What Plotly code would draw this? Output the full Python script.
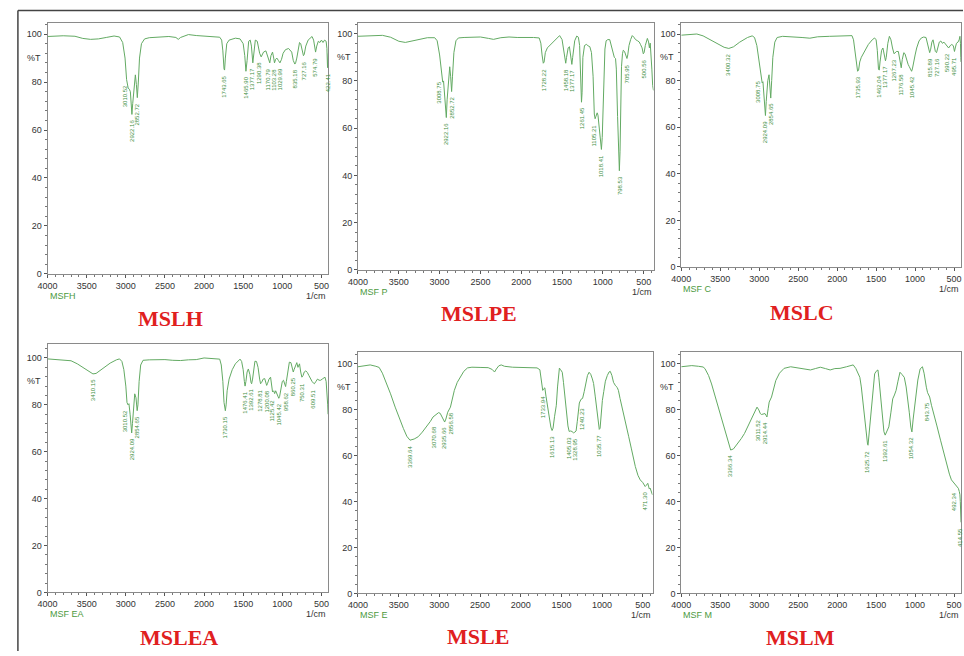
import numpy as np
import plotly.graph_objects as go

W, H = 964, 656

# ---------------- data (wavenumber 1/cm, %T) ----------------
titles = ["MSLH", "MSLPE", "MSLC", "MSLEA", "MSLE", "MSLM"]
sample_codes = ["MSFH", "MSF P", "MSF C", "MSF EA", "MSF E", "MSF M"]
x_ticks = [4000, 3500, 3000, 2500, 2000, 1500, 1000, 500]
y_ticks = [0, 20, 40, 60, 80, 100]

h_wn = [4000, 3900, 3800, 3650, 3550, 3450, 3350, 3250, 3150, 3080, 3040, 3010, 2990, 2970, 2955, 2942, 2932, 2922, 2912,
        2895, 2878, 2865, 2853, 2840, 2825, 2800, 2760, 2700, 2600, 2450, 2360, 2330, 2300, 2200, 2100, 2000, 1900, 1800,
        1775, 1760, 1745, 1738, 1728, 1710, 1680, 1600, 1540, 1500, 1480, 1465, 1450, 1430, 1410, 1395, 1377, 1365, 1345,
        1320, 1290, 1270, 1240, 1210, 1190, 1170, 1160, 1145, 1125, 1110, 1100, 1085, 1070, 1050, 1030, 1010, 990, 960,
        920, 880, 860, 840, 830, 815, 800, 780, 765, 745, 730, 720, 700, 670, 640, 620, 600, 585, 575, 560, 540, 520, 500,
        480, 460, 440, 430, 422, 416, 412]
h_t = [99, 99.2, 99.3, 99.1, 98.2, 97.8, 98, 98.6, 99.2, 98.8, 96.5, 90, 81, 77.5, 77, 76, 70, 66.5, 71,
       79, 83, 79, 73.5, 80, 90, 96, 98, 98.5, 98.8, 99, 98.6, 97.8, 98.6, 99.8, 99.4, 99.2, 98.9, 98.7,
       97.5, 93, 85.5, 85, 90, 96, 97.5, 98.3, 98, 96, 91, 84.5, 89, 97, 97.5, 95, 88, 93, 97.5,
       97, 92, 90.5, 92.5, 93, 91, 88.5, 88, 91, 92.5, 90, 88, 89.5, 90, 89, 88, 89.5, 92, 93.5,
       94, 92.5, 89, 87.5, 88, 90, 93.5, 96.5, 96, 93, 91, 91.5, 95, 97.5, 98.5, 99, 97.5, 94, 92.5, 95, 97, 96.5, 97.5,
       96.5, 97.5, 97, 94, 86, 89, 92]
h_peaks = [3010.52, 2922.16, 2852.72, 1743.65, 1465.90, 1377.17, 1290.38, 1170.79, 1103.28, 1029.99, 835.18, 727.16,
           574.79, 422.41]

p_wn = [4000, 3850, 3700, 3600, 3500, 3420, 3350, 3250, 3150, 3060, 3030, 3000, 2975, 2962, 2952, 2940, 2925, 2918, 2908,
        2890, 2876, 2865, 2853, 2842, 2825, 2800, 2770, 2700, 2500, 2400, 2340, 2250, 2150, 2050, 1950, 1850, 1780, 1760,
        1745, 1730, 1720, 1705, 1680, 1640, 1600, 1560, 1530, 1500, 1480, 1465, 1455, 1445, 1425, 1410, 1395, 1380, 1370,
        1345, 1320, 1300, 1285, 1272, 1262, 1255, 1245, 1225, 1200, 1180, 1160, 1140, 1120, 1105, 1095, 1085, 1070, 1060,
        1045, 1030, 1018, 1008, 1000, 990, 975, 960, 940, 916, 880, 860, 845, 835, 820, 808, 798, 790, 782, 772, 760, 750,
        735, 720, 705, 695, 680, 660, 640, 620, 600, 575, 555, 540, 520, 505, 495, 480, 465, 455, 440, 430, 420, 410, 400,
        390, 380]
p_t = [98.9, 99.2, 99.3, 98.5, 96.8, 96.3, 96.8, 97.8, 98.3, 98.3, 97, 91, 82, 79.5, 80, 75, 65, 64.5, 72,
       83, 86, 82, 75.5, 82, 92, 97, 98.2, 98.4, 98.6, 98, 97.6, 98.3, 98.6, 98.4, 98.5, 98.4, 98.2, 96,
       91, 87.5, 88, 92, 94, 95.5, 97, 98.5, 99.2, 97.5, 93, 88, 87.5, 90, 94, 94.5, 91, 87, 90,
       97, 99, 98.5, 95, 85, 71, 75, 90, 95, 95.5, 94.8, 94.5, 92, 82, 66, 64, 65, 66.5, 65.5,
       60, 53, 51, 56, 68, 84, 93.5, 97, 97.5, 97.5, 92, 90, 89.5, 85, 65, 46, 42, 50, 70, 86, 91.5, 93,
       92.5, 90.5, 89.5, 91, 95, 97.5, 99.2, 98.5, 97.5, 97, 96.5, 95.5, 94, 91.5, 92, 95, 97.5, 98, 96.5, 94, 96, 92, 85,
       78, 76]
p_peaks = [3008.75, 2922.16, 2852.72, 1728.22, 1458.18, 1377.17, 1261.45, 1105.21, 1018.41, 798.53, 705.95, 500.56]

c_wn = [4000, 3900, 3800, 3720, 3650, 3550, 3450, 3390, 3330, 3250, 3150, 3090, 3060, 3030, 3000, 2980, 2962, 2952, 2940,
        2928, 2920, 2910, 2890, 2874, 2862, 2852, 2840, 2825, 2800, 2770, 2700, 2550, 2450, 2350, 2250, 2100, 2000, 1900,
        1810, 1790, 1770, 1752, 1738, 1725, 1710, 1690, 1650, 1600, 1550, 1520, 1500, 1485, 1470, 1460, 1450, 1430, 1413,
        1395, 1380, 1370, 1350, 1330, 1310, 1290, 1270, 1260, 1240, 1215, 1200, 1185, 1178, 1165, 1145, 1130, 1110, 1090,
        1075, 1060, 1045, 1035, 1020, 1000, 980, 950, 920, 890, 860, 840, 825, 813, 800, 785, 770, 755, 740, 725, 710, 690,
        670, 650, 630, 610, 590, 570, 550, 530, 510, 495, 485, 470, 450, 435, 425, 418, 414, 411]
c_t = [99.5, 99.6, 100, 99.2, 98, 96, 94.3, 93.8, 94.5, 96.5, 98.5, 99.2, 98.5, 95, 88, 82, 79, 79.5, 74,
       65.5, 65, 71, 80, 82.5, 78, 72.5, 80, 90, 96.5, 98.5, 99, 98.8, 98.5, 98.2, 98.8, 99, 99.2, 99.4,
       99.3, 97.5, 93, 87, 84, 84.5, 88, 90, 92.5, 95.5, 97.5, 98.3, 97.5, 93, 85, 84.5, 88, 93, 94,
       91, 88.5, 90, 96, 99, 97.5, 94, 91.5, 91.8, 92.5, 92.5, 90, 86, 85.5, 89, 92, 91.5, 89, 87,
       86, 85, 84, 85, 88, 91, 94, 97, 98.3, 98.7, 98.5, 96, 93, 92, 93.5, 96.5, 97.5, 95, 92.5, 92, 94, 96.5,
       97, 96, 96.5, 95.5, 94.5, 94, 95, 95.5, 95, 92.5, 94, 96, 96.5, 97.5, 99, 96, 90, 88]
c_peaks = [3400.32, 3008.75, 2924.09, 2854.65, 1735.93, 1462.04, 1377.17, 1267.23, 1176.58, 1045.42, 815.89, 727.16,
           590.22, 495.71]

ea_wn = [4000, 3900, 3800, 3700, 3620, 3550, 3470, 3420, 3380, 3300, 3200, 3120, 3080, 3050, 3025, 3000, 2985, 2972, 2960,
         2945, 2932, 2925, 2915, 2900, 2886, 2870, 2855, 2845, 2830, 2810, 2780, 2700, 2500, 2400, 2300, 2200, 2100, 2000,
         1900, 1800, 1780, 1760, 1745, 1735, 1728, 1718, 1705, 1680, 1640, 1600, 1560, 1540, 1520, 1500, 1485, 1476, 1465,
         1450, 1434, 1415, 1400, 1392, 1380, 1365, 1350, 1330, 1310, 1290, 1278, 1265, 1245, 1225, 1210, 1200, 1190, 1170,
         1150, 1135, 1125, 1110, 1098, 1085, 1060, 1045, 1035, 1020, 1000, 985, 970, 958, 948, 930, 910, 890, 870, 860, 850,
         830, 815, 800, 780, 765, 750, 735, 720, 700, 680, 660, 640, 620, 600, 590, 570, 550, 530, 510, 490, 470, 455, 440,
         430, 420, 415]
ea_t = [99.6, 99.4, 99.3, 98.8, 97.5, 96, 94, 93.2, 93.4, 95.5, 97.8, 99.2, 99.6, 98.5, 95, 88, 81, 80, 80.5,
        76, 69, 68, 72, 80, 84.7, 83, 77.5, 80, 90, 97, 99, 99.2, 99.3, 99, 98.9, 99.2, 99.3, 100,
        99.6, 99.5, 97, 90, 81, 78, 77.5, 80, 86, 91, 95, 97.5, 99, 99.5, 98.5, 95, 90, 88, 90,
        94, 95.3, 93, 89.5, 89, 91, 96, 98.6, 98.5, 96, 91, 89, 89.5, 91, 91.2, 89.5, 88.3, 89, 91,
        91.8, 88, 85.5, 86, 84.8, 86, 84, 82.8, 83.5, 87, 90, 90.5, 89, 87.8, 90, 95, 98.2, 98, 94.5, 94, 95,
        97, 98, 96, 97.5, 94, 91.8, 92.5, 94, 94.5, 93.8, 92.5, 91, 90, 89.2, 89, 90, 91, 90.5, 90.5, 91, 91.5, 91.8, 90,
        86, 80, 76]
ea_peaks = [3410.15, 3010.52, 2924.09, 2854.65, 1730.15, 1476.41, 1392.61, 1278.81, 1200.08, 1125.42, 1045.42, 958.62,
            860.25, 750.31, 609.51]

e_wn = [4000, 3920, 3850, 3780, 3740, 3700, 3644, 3600, 3543, 3490, 3442, 3400, 3361, 3310, 3260, 3210, 3159, 3110, 3078,
        3040, 3010, 2990, 2969, 2950, 2935, 2920, 2897, 2864, 2840, 2816, 2780, 2735, 2700, 2654, 2600, 2500, 2400, 2350,
        2322, 2300, 2270, 2240, 2200, 2100, 2000, 1900, 1800, 1765, 1745, 1730, 1715, 1704, 1690, 1660, 1630, 1615, 1603,
        1585, 1563, 1548, 1535, 1525, 1510, 1490, 1475, 1462, 1440, 1420, 1405, 1390, 1370, 1353, 1335, 1320, 1305, 1290,
        1280, 1260, 1240, 1220, 1200, 1180, 1160, 1140, 1120, 1105, 1085, 1070, 1057, 1045, 1035, 1025, 1015, 1005, 997,
        980, 960, 936, 915, 900, 880, 860, 845, 835, 815, 800, 780, 754, 720, 690, 673, 640, 610, 592, 560, 532, 500, 480,
        471, 460, 445, 439, 430, 420, 410, 400, 391, 382]
e_t = [98.8, 99.2, 99.6, 99, 98.5, 96, 91.3, 87, 81.2, 76, 71.9, 68.5, 66.8, 67.3, 68.3, 70.3, 72.6, 75, 76.9,
       77.8, 78.8, 78.5, 77, 75.5, 74.7, 76, 79, 81.2, 84.5, 88.5, 92, 95, 96.8, 98.3, 98.6, 98.5, 98.4, 97.6,
       96.5, 97.8, 99.2, 99.6, 99, 98.6, 98.4, 98.5, 98.3, 97.5, 93, 88.5, 89.3, 89.6, 86, 79, 72.5, 71, 72,
       77, 82, 90, 97, 98.2, 97.5, 96.4, 92, 87, 79, 73, 70.6, 70.8, 70.6, 70, 70.3, 70.8, 75, 80,
       83, 84.6, 85, 88, 92, 95, 96.4, 95.5, 93.5, 91.5, 86, 82, 78.4, 74, 71.5, 72, 78, 82, 84.1,
       88, 92.5, 95, 96.5, 96.8, 95, 92, 90.6, 90.5, 89.8, 88.5, 85, 81.2, 76, 70.5, 68.3, 63, 58, 55.3, 51.5, 49.5, 48.3,
       47.2, 46.6, 47, 47.8, 48, 46.8, 45.5, 45.9, 44.5, 43.7, 43]
e_peaks = [3369.64, 3070.68, 2935.66, 2856.58, 1733.94, 1615.13, 1405.03, 1328.95, 1240.23, 1035.77, 471.30]

m_wn = [4000, 3900, 3865, 3780, 3720, 3696, 3650, 3611, 3570, 3527, 3485, 3442, 3400, 3366, 3330, 3300, 3273, 3230, 3189,
        3150, 3104, 3060, 3028, 3005, 2986, 2970, 2956, 2940, 2926, 2910, 2901, 2885, 2872, 2842, 2820, 2787, 2740, 2681,
        2597, 2500, 2420, 2343, 2280, 2216, 2150, 2090, 2030, 1963, 1880, 1794, 1760, 1730, 1709, 1690, 1675, 1659, 1640,
        1625, 1610, 1604, 1590, 1575, 1553, 1535, 1519, 1500, 1477, 1465, 1450, 1434, 1415, 1400, 1384, 1360, 1337, 1310,
        1287, 1265, 1244, 1220, 1194, 1170, 1139, 1115, 1096, 1075, 1055, 1041, 1025, 1010, 991, 965, 936, 906, 885, 870,
        856, 840, 813, 790, 758, 720, 674, 630, 589, 560, 534, 500, 462, 445, 433, 425, 420, 416, 413, 411]
m_t = [98.8, 99.2, 99.3, 99, 98.7, 98, 95, 91.3, 86.5, 81.2, 76, 71.1, 66.5, 62.5, 63, 64.3, 65.4, 67.5, 69.7,
       72.5, 75.5, 79, 81.2, 80, 78.4, 78, 78.1, 78.5, 78.4, 77.5, 76.9, 80.5, 83.4, 85.6, 88.5, 92.8, 96, 98.1,
       98.8, 98.3, 98, 97.4, 98, 98.6, 98, 97.4, 98, 98.1, 98.8, 99.6, 98, 96, 94.2, 90, 85, 82.7, 76,
       69, 65, 64.6, 70, 77, 84.1, 90, 95.7, 96.8, 97.4, 94, 89, 82.7, 75, 70.5, 69, 70.5, 72.6, 79,
       84.8, 86.5, 88.5, 92.5, 96.4, 95.5, 94.2, 90, 85.6, 79, 72.5, 70.4, 76, 81, 87, 93, 97.8, 98.8, 96, 92,
       89.9, 87.5, 85.6, 82, 78.4, 73, 66.8, 61, 55.3, 52, 49.5, 48, 46.6, 45.8, 44.4, 43, 40, 35, 32, 31]
m_peaks = [3366.34, 3011.52, 2914.44, 1625.72, 1392.61, 1054.32, 843.75, 492.34, 414.55]

spectra = [(h_wn, h_t, h_peaks), (p_wn, p_t, p_peaks), (c_wn, c_t, c_peaks),
           (ea_wn, ea_t, ea_peaks), (e_wn, e_t, e_peaks), (m_wn, m_t, m_peaks)]

# ---------------- layout geometry (pixels) ----------------
panels = [
    dict(l=38, r=322, t=23, b=276, xend=412, ytop=104.7, tx=162, ty=321),
    dict(l=352, r=651, t=23, b=272, xend=379, ytop=104.6, tx=474, ty=316),
    dict(l=679, r=962, t=23, b=269, xend=411, ytop=104.8, tx=801, ty=315),
    dict(l=38, r=322, t=347, b=597, xend=412, ytop=105.8, tx=171, ty=642),
    dict(l=352, r=650, t=355, b=598, xend=380, ytop=105.1, tx=473, ty=641),
    dict(l=679, r=962, t=355, b=598, xend=411, ytop=105.1, tx=800, ty=642),
]

LINE = "#63aa63"
LBL = "#3f8f3f"
AXC = "#8a8a8a"
TXT = "#333333"

fig = go.Figure()
annotations = []
layout_axes = {}

for i, ((wn, t, peaks), pn) in enumerate(zip(spectra, panels), start=1):
    xa = "x" if i == 1 else f"x{i}"
    ya = "y" if i == 1 else f"y{i}"
    fig.add_trace(go.Scatter(x=wn, y=t, mode="lines", line=dict(color=LINE, width=1),
                             xaxis=xa, yaxis=ya, hoverinfo="skip", showlegend=False))
    xkey = "xaxis" if i == 1 else f"xaxis{i}"
    ykey = "yaxis" if i == 1 else f"yaxis{i}"
    layout_axes[xkey] = dict(
        domain=[pn["l"] / W, pn["r"] / W], anchor=ya, range=[4000, pn["xend"]],
        tickvals=x_ticks, ticktext=[str(v) for v in x_ticks],
        showline=True, mirror=True, linecolor=AXC, linewidth=1,
        ticks="outside", ticklen=3, tickcolor="#555", showgrid=False, zeroline=False,
        tickfont=dict(family="Liberation Sans, Arial", size=9, color=TXT),
        minor=dict(dtick=100, tick0=0, ticks="outside", ticklen=2, tickcolor="#777", showgrid=False),
    )
    layout_axes[ykey] = dict(
        domain=[1 - pn["b"] / H, 1 - pn["t"] / H], anchor=xa, range=[0, pn["ytop"]],
        tickvals=y_ticks, ticktext=[str(v) for v in y_ticks],
        showline=True, mirror=True, linecolor=AXC, linewidth=1,
        ticks="outside", ticklen=3, tickcolor="#555", showgrid=False, zeroline=False,
        tickfont=dict(family="Liberation Sans, Arial", size=9, color=TXT),
        minor=dict(dtick=4, tick0=0, ticks="outside", ticklen=2, tickcolor="#777", showgrid=False),
    )
    annotations.append(dict(text="%T", xref=f"{xa} domain", yref=ya, x=0, y=90, xanchor="right",
                            yanchor="middle", xshift=-5, showarrow=False,
                            font=dict(family="Liberation Sans, Arial", size=9, color=TXT)))
    annotations.append(dict(text=sample_codes[i - 1], xref=f"{xa} domain", yref=f"{ya} domain", x=0, y=0,
                            xanchor="left", yanchor="middle", yshift=-22, showarrow=False,
                            font=dict(family="Liberation Sans, Arial", size=9, color="#4c9a40")))
    annotations.append(dict(text="1/cm", xref=f"{xa} domain", yref=f"{ya} domain", x=1, y=0,
                            xanchor="right", yanchor="middle", yshift=-22, showarrow=False,
                            font=dict(family="Liberation Sans, Arial", size=9, color=TXT)))
    wn_arr = np.array(wn[::-1], dtype=float)
    t_arr = np.array(t[::-1], dtype=float)
    for pk in peaks:
        mask = (wn_arr >= pk - 40) & (wn_arr <= pk + 40)
        ymin = t_arr[mask].min() if mask.any() else np.interp(pk, wn_arr, t_arr)
        annotations.append(dict(text=f"{pk:.2f}", xref=xa, yref=ya, x=pk, y=ymin - 1.5,
                                xanchor="center", yanchor="top", textangle=-90, showarrow=False,
                                font=dict(family="Liberation Sans, Arial", size=6, color=LBL)))
    annotations.append(dict(text=titles[i - 1], xref="paper", yref="paper", x=pn["tx"] / W, y=1 - pn["ty"] / H,
                            xanchor="center", yanchor="middle", showarrow=False,
                            font=dict(family="Liberation Serif, Times New Roman, serif", size=22,
                                      color="#e0201f", weight="bold")))

shapes = [
    dict(type="line", xref="paper", yref="paper", x0=8 / W, x1=1, y0=1 - 10.5 / H, y1=1 - 10.5 / H,
         line=dict(color="#444", width=1.5)),
    dict(type="line", xref="paper", yref="paper", x0=8 / W, x1=8 / W, y0=0, y1=1 - 10.5 / H,
         line=dict(color="#444", width=1.5)),
]

fig.update_layout(
    width=W, height=H, margin=dict(l=0, r=0, t=0, b=0),
    paper_bgcolor="white", plot_bgcolor="white", showlegend=False,
    annotations=annotations, shapes=shapes, **layout_axes,
)

fig.write_html("out.html", config={"displayModeBar": False},
               post_script="document.body.style.margin='0';document.body.style.padding='0';"
                           "document.body.style.overflow='hidden';")
